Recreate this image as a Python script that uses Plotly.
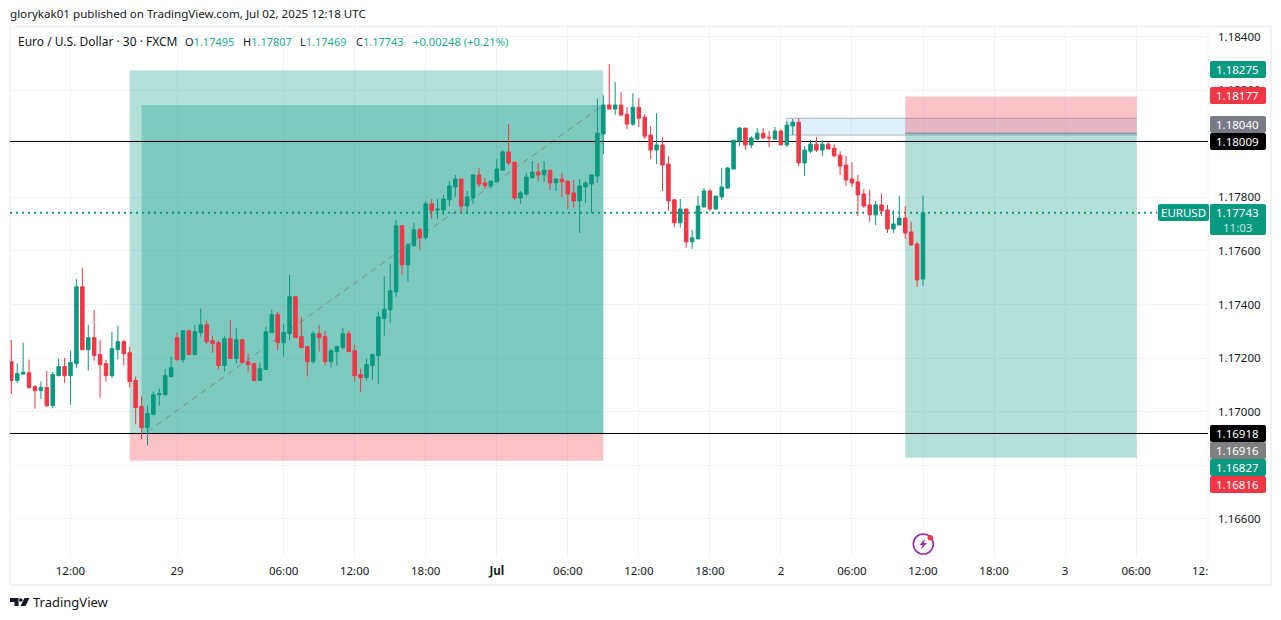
import plotly.graph_objects as go

FONT = "Noto Sans"
BASE = 1.17
SCALE = 1e-5
bar_index = list(range(-10, 145))
# prices, as points above 1.17000
open_pts = [186,116,140,145,93,78,90,22,134,168,
134,179,466,231,276,213,179,134,231,261,
220,116,19,-60,-11,63,63,131,276,194,
302,213,295,324,265,257,172,272,198,268,
186,179,116,157,295,362,257,292,429,280,
242,186,291,280,186,224,239,291,227,138,
127,172,209,348,380,447,694,548,619,679,
649,776,753,753,791,839,869,768,798,884,
854,843,858,902,970,932,798,813,873,895,
884,902,854,869,861,817,787,839,850,880,
1037,1145,1130,1145,1111,1074,1137,1100,1033,977,
996,925,791,705,757,634,645,764,824,757,
802,835,906,1011,1059,996,1018,1040,1025,1018,
1048,996,1067,1081,929,973,999,977,999,984,
958,921,869,858,813,772,735,772,753,682,
697,723,671,626,495]
high_pts = [267,180,257,194,99,112,152,148,198,200,
226,495,536,324,379,268,194,298,321,268,
242,131,56,22,75,86,160,205,295,302,
302,324,384,339,283,265,283,343,313,268,
216,183,183,317,380,372,329,510,429,354,
246,302,324,302,235,246,313,302,250,160,
198,213,373,507,552,716,697,630,705,686,
787,794,794,809,861,884,869,824,884,910,
873,861,943,977,1074,932,824,891,936,929,
936,902,869,891,861,865,869,861,884,1170,
1182,1298,1231,1193,1137,1190,1171,1111,1067,1115,
1025,955,794,794,757,679,805,835,832,805,
910,914,1014,1063,1059,1029,1059,1059,1048,1063,
1055,1085,1093,1096,992,1014,1025,1014,1007,999,
973,955,932,884,832,828,787,813,772,753,
805,768,709,634,807]
low_pts = [66,106,138,85,11,46,16,12,132,106,
26,162,231,153,190,52,112,126,194,172,
90,-48,-104,-127,-15,22,60,131,190,183,
213,213,280,252,220,157,149,198,179,179,
149,116,116,157,295,230,205,265,276,239,
131,179,224,172,164,172,231,224,112,73,
116,119,104,283,332,429,511,485,619,604,
641,720,720,735,768,802,743,738,776,839,
832,832,858,902,921,791,776,805,873,861,
858,828,824,802,757,761,667,779,742,854,
962,1130,1108,1104,1055,1067,1063,1018,943,925,
824,750,690,687,612,608,645,764,750,753,
791,832,906,992,977,984,1014,1022,988,1018,
996,988,1033,917,880,966,970,955,981,951,
884,843,839,731,761,709,697,731,667,667,
697,645,619,466,469]
close_pts = [116,142,147,90,78,90,22,138,168,134,
183,466,231,276,209,175,134,235,261,216,
112,15,-60,-7,63,67,134,164,194,302,
213,298,324,261,254,172,272,198,268,183,
175,116,160,298,362,257,295,429,276,239,
186,291,276,186,227,242,291,224,134,126,
175,213,354,382,451,694,548,623,679,649,
776,750,756,794,843,869,768,802,884,850,
843,861,906,970,929,798,817,876,895,884,
902,854,869,858,813,787,843,854,884,1040,
1145,1130,1145,1108,1074,1137,1096,1029,977,996,
921,787,705,757,634,649,768,824,757,805,
839,910,1014,1059,996,1022,1040,1022,1022,1048,
996,1070,1081,929,977,999,977,999,981,955,
917,865,854,809,768,735,772,750,682,701,
723,667,623,492,743]

tick_pos = [0,18,36,48,60,72,84,96,108,120,132,144,156,168,180]
tick_txt = ["12:00","29","06:00","12:00","18:00","<b>Jul</b>","06:00","12:00","18:00","2","06:00","12:00","18:00","3","06:00"]
price_ticks = [1.166,1.168,1.170,1.172,1.174,1.176,1.178,1.180,1.182,1.184]
price_labels = ["1.16600","","1.17000","1.17200","1.17400","1.17600","1.17800","","1.18200","1.18400"]
level_upper = 1.18009
level_lower = 1.16918
last_price = 1.17743

GREEN = "#089981"; RED = "#F23645"; TXT = "#131722"; GRID = "#F0F3FA"
TEAL_A = "rgba(8,153,129,0.3)"; RED_A = "rgba(242,54,69,0.3)"; BLUE_A = "rgba(33,150,243,0.15)"
W, H = 1281, 620
L, R, T, B = 10, 1208, 27, 557
X0, X1 = -10.22, 192.14
def xp(p): return (p - L) / (R - L)
def yp(p): return (B - p) / (B - T)

def pr(v): return [round(BASE + a * SCALE, 5) for a in v]

fig = go.Figure(go.Candlestick(
    x=bar_index, open=pr(open_pts), high=pr(high_pts), low=pr(low_pts), close=pr(close_pts),
    increasing=dict(line=dict(color=GREEN, width=1), fillcolor=GREEN),
    decreasing=dict(line=dict(color=RED, width=1), fillcolor=RED),
    whiskerwidth=0, showlegend=False, hoverinfo="skip"))

shapes = []
def rect(x0, x1, y0, y1, fill):
    shapes.append(dict(type="rect", xref="x", yref="y", x0=x0, x1=x1, y0=y0, y1=y1,
                       fillcolor=fill, line=dict(width=0), layer="between"))
def hline(x0, x1, y, color, width=1, dash="solid", layer="between"):
    shapes.append(dict(type="line", xref="x", yref="y", x0=x0, x1=x1, y0=y, y1=y,
                       line=dict(color=color, width=width, dash=dash), layer=layer))

# supply zone
rect(121, 180.1, 1.18033, 1.18096, BLUE_A)
hline(121, 180.1, 1.18096, "#B2B5BE")
hline(121, 180.1, 1.18033, "#B2B5BE")
shapes.append(dict(type="line", xref="x", yref="y", x0=121, x1=121, y0=1.18033, y1=1.18096,
                   line=dict(color="#B2B5BE", width=1), layer="between"))
# left position tool
rect(10, 90, 1.16918, 1.18275, TEAL_A)
rect(10, 90, 1.16816, 1.16918, RED_A)
rect(12, 90, 1.16918, 1.18145, TEAL_A)
shapes.append(dict(type="line", xref="x", yref="y", x0=13, x1=90, y0=1.16925, y1=1.18145,
                   line=dict(color="rgba(120,123,134,0.8)", width=1, dash="6px,5px"), layer="between"))
# right position tool
rect(141, 180.1, 1.18040, 1.18177, RED_A)
rect(141, 180.1, 1.16827, 1.18040, TEAL_A)
hline(141, 180.1, 1.18040, "#787B86")
# levels
hline(X0, X1, level_upper, "#000000")
hline(X0, X1, level_lower, "#000000")
hline(X0, 183.6, last_price, GREEN, width=2, dash="2px,4px")

def paper_line(x0, y0, x1, y1, color=GRID, width=1, layer="between"):
    shapes.append(dict(type="line", xref="paper", yref="paper", x0=xp(x0), x1=xp(x1), y0=yp(y0), y1=yp(y1),
                       line=dict(color=color, width=width), layer=layer))
# pane frame
paper_line(10, 26.5, 1271, 26.5, width=2)
paper_line(10, 585, 1271, 585, width=2)
paper_line(10, 26.5, 10, 585, width=2)
paper_line(1271, 26.5, 1271, 585, width=2)
paper_line(1208, 27, 1208, 557)

annots = []
def text(x, y, s, color=TXT, size=12, anchor="left"):
    annots.append(dict(xref="paper", yref="paper", x=xp(x), y=yp(y), text=s, showarrow=False,
                       xanchor=anchor, yanchor="middle", font=dict(family=FONT, size=size, color=color),
                       borderpad=0, borderwidth=0))
def badge(x0, x1, y0, y1, fill, r=2):
    a, b, c, d = x0, x1, y0, y1
    def P(x, y): return f"{xp(x):.6f},{yp(y):.6f}"
    path = (f"M{P(a+r,c)} L{P(b-r,c)} Q{P(b,c)} {P(b,c+r)} L{P(b,d-r)} Q{P(b,d)} {P(b-r,d)} "
            f"L{P(a+r,d)} Q{P(a,d)} {P(a,d-r)} L{P(a,c+r)} Q{P(a,c)} {P(a+r,c)} Z")
    shapes.append(dict(type="path", xref="paper", yref="paper", path=path, fillcolor=fill,
                       line=dict(width=0), layer="above"))

for y0, y1, fill, label in [(61,78,GREEN,"1.18275"),(87,104,RED,"1.18177"),(116,133,"#787B86","1.18040"),
                            (133,150,"#000000","1.18009"),(425,442,"#000000","1.16918"),(442,459,"#808080","1.16916"),
                            (459,476,GREEN,"1.16827"),(476,493,RED,"1.16816")]:
    badge(1210, 1266, y0, y1, fill)
    text(1238, (y0+y1)/2, label, "#FFFFFF", size=11.5, anchor="center")
badge(1158, 1209, 204, 221, GREEN)
text(1183.5, 212.5, "EURUSD", "#FFFFFF", size=11.5, anchor="center")
badge(1210, 1266, 204, 235, GREEN)
text(1238, 212.5, "1.17743", "#FFFFFF", size=11.5, anchor="center")
text(1238, 227, "11:03", "#BFE6DF", size=11.5, anchor="center")

text(10, 14, "glorykak01 published on TradingView.com, Jul 02, 2025 12:18 UTC", size=11.6)
text(18, 41.5, "Euro / U.S. Dollar · 30 · FXCM", size=12)
G2 = "#22AB94"
text(185, 41.5, f"O<span style='color:{G2}'>1.17495</span>", size=11)
text(243, 41.5, f"H<span style='color:{G2}'>1.17807</span>", size=11)
text(300, 41.5, f"L<span style='color:{G2}'>1.17469</span>", size=11)
text(355.5, 41.5, f"C<span style='color:{G2}'>1.17743</span>", size=11)
text(413, 41.5, "+0.00248 (+0.21%)", G2, size=11.2)
text(1208, 570, "12:", anchor="right", size=11.5)
text(33, 602, "TradingView", size=13)

# TradingView logo
def poly(pts, fill):
    path = "M" + " L".join(f"{xp(x):.6f},{yp(y):.6f}" for x, y in pts) + " Z"
    shapes.append(dict(type="path", xref="paper", yref="paper", path=path, fillcolor=fill,
                       line=dict(width=0), layer="above"))
poly([(10,598),(18.5,598),(18.5,606),(14.5,606),(14.5,602),(10,602)], TXT)
poly([(24.5,598),(29.5,598),(25.5,606),(20.5,606)], TXT)
shapes.append(dict(type="circle", xref="paper", yref="paper", x0=xp(19), x1=xp(22.6), y0=yp(601.8), y1=yp(598.2),
                   fillcolor=TXT, line=dict(width=0), layer="above"))
# news icon
shapes.append(dict(type="circle", xref="paper", yref="paper", x0=xp(913.3), x1=xp(933.3), y0=yp(554), y1=yp(534),
                   fillcolor="#FFFFFF", line=dict(color="#9C27B0", width=1.6), layer="above"))
poly([(925,538.5),(919.5,545),(922.5,545),(921,549.5),(927,543),(924,543)], "#9C27B0")
shapes.append(dict(type="circle", xref="paper", yref="paper", x0=xp(927.5), x1=xp(933), y0=yp(540.5), y1=yp(535),
                   fillcolor=RED, line=dict(width=0), layer="above"))

fig.update_layout(
    width=W, height=H, autosize=False,
    margin=dict(l=L, r=W-R, t=T, b=H-B, pad=0),
    paper_bgcolor="#FFFFFF", plot_bgcolor="#FFFFFF", showlegend=False, dragmode=False,
    font=dict(family=FONT, size=12, color=TXT),
    shapes=shapes, annotations=annots, boxgap=0.15,
    xaxis=dict(range=[X0, X1], rangeslider=dict(visible=False), tickmode="array",
               tickvals=tick_pos, ticktext=tick_txt, gridcolor=GRID, gridwidth=1, showline=False,
               zeroline=False, ticks="", ticklabelstandoff=5, tickfont=dict(family=FONT, size=11.5, color=TXT)),
    yaxis=dict(range=[1.164565, 1.184368], side="right", tickmode="array", tickvals=price_ticks,
               ticktext=price_labels, gridcolor=GRID, gridwidth=1, showline=False,
               zeroline=False, ticks="", ticklabelstandoff=9, tickfont=dict(family=FONT, size=11.5, color=TXT)),
)
fig.write_html("out.html", config={"displayModeBar": False},
               post_script="document.body.style.margin='0';document.body.style.overflow='hidden';")
